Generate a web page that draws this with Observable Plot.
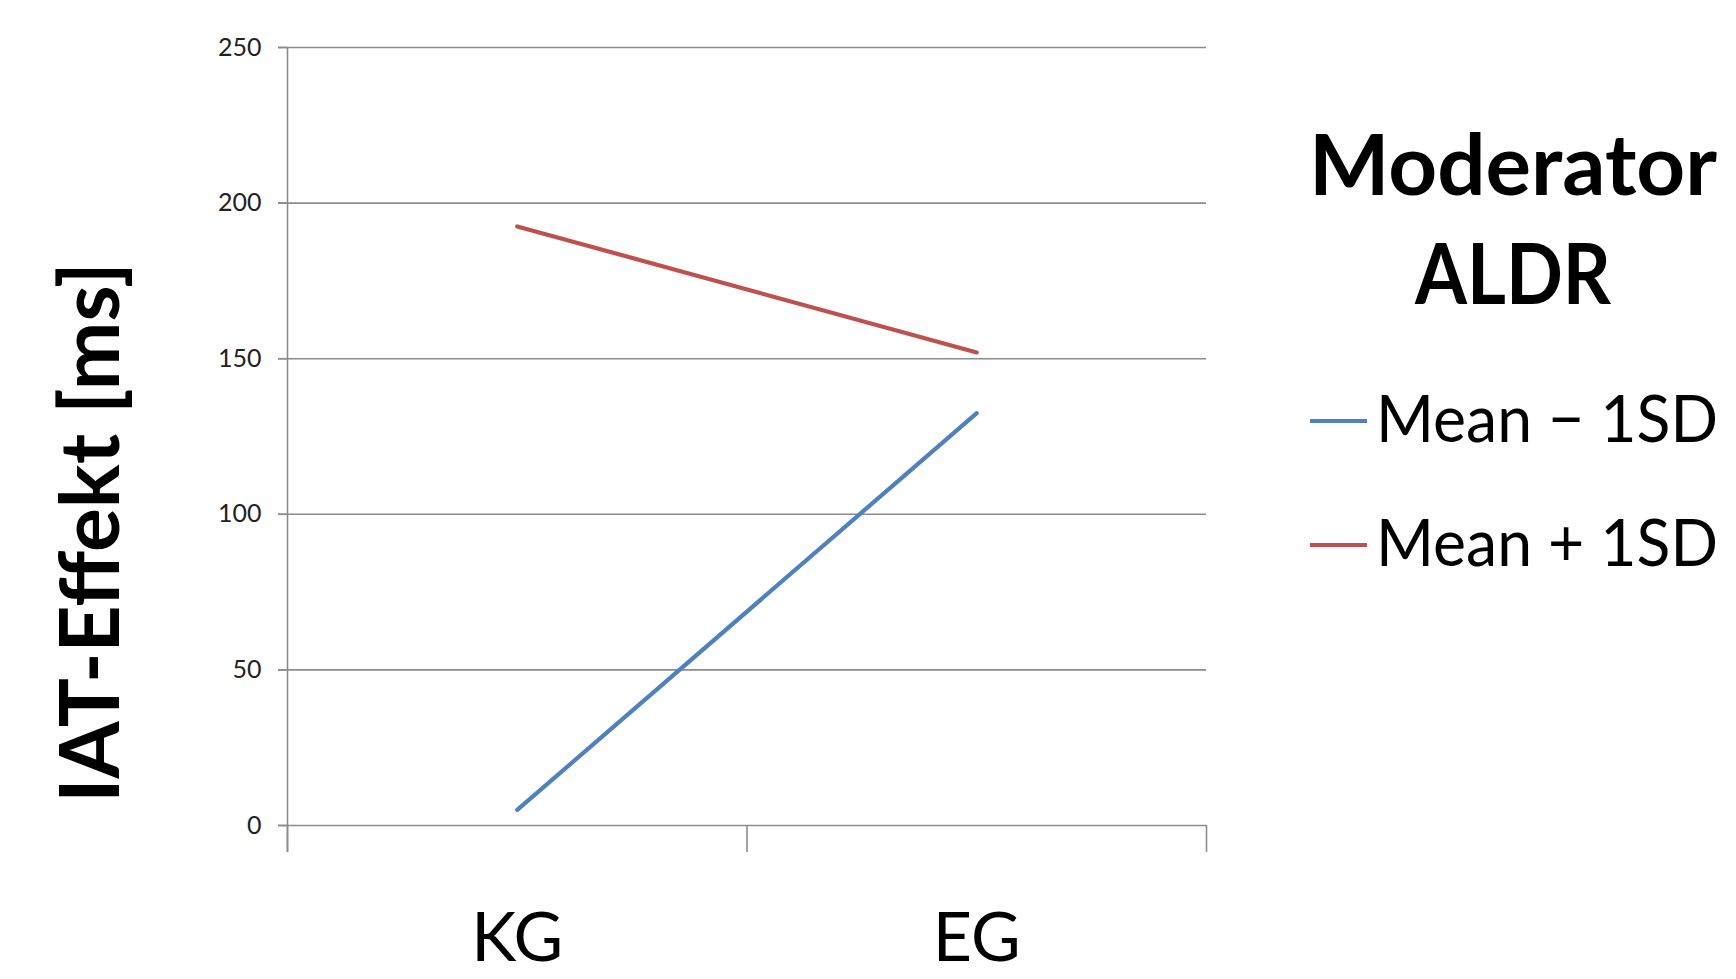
<!DOCTYPE html>
<html>
<head>
<meta charset="utf-8">
<script src="https://cdn.jsdelivr.net/npm/d3@7"></script>
<script src="https://cdn.jsdelivr.net/npm/@observablehq/plot@0.6"></script>
<style>
  html, body { margin: 0; padding: 0; background: #fff; }
  #wrap { position: relative; width: 1736px; height: 979px; overflow: hidden; font-family: Lato, "Open Sans", sans-serif; }
  #legend { position: absolute; left: 0; top: 0; }
</style>
</head>
<body>
<div id="wrap"></div>
<script>
const groups = ["KG", "EG"];
const seriesNames = ["Mean − 1SD", "Mean + 1SD"];
const seriesColors = ["#4f81bd", "#c0504d"];
const meanMinus1SD = [5, 132.5];
const meanPlus1SD = [192.5, 152];
const yTicks = [0, 50, 100, 150, 200, 250];
const yTitle = "IAT-Effekt [ms]";
const legendTitle = ["Moderator", "ALDR"];

const data = [];
[meanMinus1SD, meanPlus1SD].forEach((vals, s) => {
  vals.forEach((v, i) => data.push({ series: seriesNames[s], group: groups[i], xi: i + 0.5, value: v }));
});

const chart = Plot.plot({
  width: 1736,
  height: 979,
  marginLeft: 287,
  marginRight: 530,
  marginTop: 47,
  marginBottom: 154,
  style: { fontFamily: "Lato, 'Open Sans', sans-serif", background: "#fff" },
  x: { domain: [0, groups.length], axis: null },
  y: { domain: [0, 250], axis: null },
  color: { domain: seriesNames, range: seriesColors },
  marks: [
    Plot.gridY(yTicks, { stroke: "#8c8c8c", strokeOpacity: 1, strokeWidth: 1.6, insetLeft: -9 }),
    Plot.axisY(yTicks, { tickSize: 9, tickPadding: 17, fontSize: 25, stroke: "#8c8c8c", strokeWidth: 1.6, fill: "#222", label: null }),
    Plot.ruleX([0], { y1: 250, y2: 0, stroke: "#8c8c8c", strokeWidth: 1.6, insetBottom: -27 }),
    Plot.axisX(d3.range(groups.length + 1), { tickSize: 27, tickFormat: () => "", stroke: "#8c8c8c", strokeWidth: 1.6, label: null }),
    Plot.axisX(groups.map((g, i) => i + 0.5), { tickSize: 0, tickPadding: 87, tickFormat: (d) => groups[Math.floor(d)], fontSize: 68, fill: "#000", label: null }),
    Plot.line(data, { x: "xi", y: "value", z: "series", stroke: "series", strokeWidth: 4.2, strokeLinecap: "round" }),
    Plot.text([yTitle], { frameAnchor: "left", rotate: -90, dx: -195, dy: 96, fontSize: 82, fontWeight: 700, fill: "#000", textAnchor: "middle" })
  ]
});

const wrap = document.getElementById("wrap");
wrap.appendChild(chart);

// legend (drawn to the right of the plot)
const svg = d3.select(wrap).append("svg")
  .attr("id", "legend")
  .attr("width", 1736).attr("height", 979)
  .style("font-family", "Lato, 'Open Sans', sans-serif");

const titleBaselines = [195, 304];
const titleWidths = [408, 196];
legendTitle.forEach((t, i) => {
  svg.append("text")
    .attr("x", 1513).attr("y", titleBaselines[i])
    .attr("text-anchor", "middle")
    .attr("font-size", 84).attr("font-weight", 700)
    .attr("textLength", titleWidths[i]).attr("lengthAdjust", "spacingAndGlyphs")
    .attr("fill", "#000")
    .text(t);
});
seriesNames.forEach((name, i) => {
  const cy = 421 + i * 124;
  svg.append("line")
    .attr("x1", 1310).attr("x2", 1367).attr("y1", cy).attr("y2", cy)
    .attr("stroke", seriesColors[i]).attr("stroke-width", 4.2);
  svg.append("text")
    .attr("x", 1376).attr("y", cy + 21)
    .attr("font-size", 66)
    .attr("textLength", 342).attr("lengthAdjust", "spacingAndGlyphs")
    .attr("fill", "#000")
    .text(name);
});
</script>
</body>
</html>
